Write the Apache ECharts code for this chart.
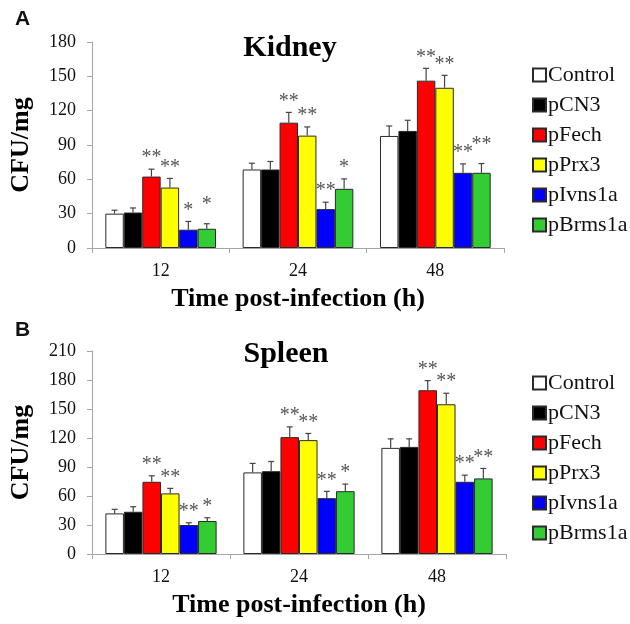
<!DOCTYPE html>
<html>
<head>
<meta charset="utf-8">
<script src="https://cdn.jsdelivr.net/npm/echarts@6/dist/echarts.min.js"></script>
<style>html,body{margin:0;padding:0;background:#fff}#c{width:630px;height:624px}</style>
</head>
<body>
<div id="c"></div>
<script>
// ---- data ----
const categories = ['12', '24', '48'];
const seriesNames = ['Control', 'pCN3', 'pFech', 'pPrx3', 'pIvns1a', 'pBrms1a'];
const seriesColors = ['#ffffff', '#000000', '#ff0000', '#ffff00', '#0000ff', '#33cc33'];

const kidneyTicks = [0, 30, 60, 90, 120, 150, 180];
const spleenTicks = [0, 30, 60, 90, 120, 150, 180, 210];

// Kidney means
const kidneyControl = [30, 68.6, 97.9];
const kidneyCN3 = [31, 68.6, 102.3];
const kidneyFech = [62.4, 109.5, 146.2];
const kidneyPrx3 = [52.8, 98.2, 140];
const kidneyIvns1a = [16, 34, 65.7];
const kidneyBrms1a = [16.8, 51.7, 65.7];
// Kidney error (upper)
const kidneyControlErr = [3, 5.5, 8.7];
const kidneyCN3Err = [4, 7, 9.3];
const kidneyFechErr = [6.5, 9, 10.8];
const kidneyPrx3Err = [8, 7.6, 10.9];
const kidneyIvns1aErr = [7.2, 6, 7.8];
const kidneyBrms1aErr = [4.4, 8.7, 8.1];
// Kidney significance
const kidneyControlSig = ['', '', ''];
const kidneyCN3Sig = ['', '', ''];
const kidneyFechSig = ['**', '**', '**'];
const kidneyPrx3Sig = ['**', '**', '**'];
const kidneyIvns1aSig = ['*', '**', '**'];
const kidneyBrms1aSig = ['*', '*', '**'];

// Spleen means
const spleenControl = [42, 84.4, 109.8];
const spleenCN3 = [43.7, 85.7, 110.8];
const spleenFech = [74.7, 120.9, 169.4];
const spleenPrx3 = [62.7, 117.8, 154.9];
const spleenIvns1a = [30, 57.8, 74.7];
const spleenBrms1a = [34.1, 65, 78.2];
// Spleen error (upper)
const spleenControlErr = [4.2, 9.3, 9.3];
const spleenCN3Err = [5.2, 10, 8.3];
const spleenFechErr = [6.2, 10.6, 10];
const spleenPrx3Err = [5.2, 6.9, 11.4];
const spleenIvns1aErr = [2.3, 7, 6.9];
const spleenBrms1aErr = [3.4, 7.3, 10.3];
// Spleen significance
const spleenControlSig = ['', '', ''];
const spleenCN3Sig = ['', '', ''];
const spleenFechSig = ['**', '**', '**'];
const spleenPrx3Sig = ['**', '**', '**'];
const spleenIvns1aSig = ['**', '**', '**'];
const spleenBrms1aSig = ['*', '*', '**'];

// ---- build ----
const SERIF = '"Liberation Serif", "Times New Roman", serif';
const CAT_GAP = 0.194;

const kidneyVals = [kidneyControl, kidneyCN3, kidneyFech, kidneyPrx3, kidneyIvns1a, kidneyBrms1a];
const kidneyErrs = [kidneyControlErr, kidneyCN3Err, kidneyFechErr, kidneyPrx3Err, kidneyIvns1aErr, kidneyBrms1aErr];
const kidneySigs = [kidneyControlSig, kidneyCN3Sig, kidneyFechSig, kidneyPrx3Sig, kidneyIvns1aSig, kidneyBrms1aSig];
const spleenVals = [spleenControl, spleenCN3, spleenFech, spleenPrx3, spleenIvns1a, spleenBrms1a];
const spleenErrs = [spleenControlErr, spleenCN3Err, spleenFechErr, spleenPrx3Err, spleenIvns1aErr, spleenBrms1aErr];
const spleenSigs = [spleenControlSig, spleenCN3Sig, spleenFechSig, spleenPrx3Sig, spleenIvns1aSig, spleenBrms1aSig];

function barSeries(vals, axisIdx) {
  return vals.map((v, i) => ({
    type: 'bar',
    name: seriesNames[i],
    xAxisIndex: axisIdx, yAxisIndex: axisIdx,
    data: v,
    barGap: '0%',
    barCategoryGap: (CAT_GAP * 100) + '%',
    itemStyle: { color: seriesColors[i], borderColor: '#2a2a2a', borderWidth: 1 },
    emphasis: { disabled: true },
    animation: false
  }));
}

function errSeries(vals, errs, sigs, axisIdx) {
  const data = [];
  vals.forEach((v, s) => v.forEach((m, c) => {
    const prevTop = s > 0 && sigs[s - 1][c] ? vals[s - 1][c] + errs[s - 1][c] : -1;
    data.push([c, s, m, m + errs[s][c], sigs[s][c], prevTop]);
  }));
  return {
    type: 'custom',
    xAxisIndex: axisIdx, yAxisIndex: axisIdx,
    encode: { x: 0, y: 3 },
    data: data,
    silent: true,
    z: 5,
    animation: false,
    renderItem: function (params, api) {
      const c = api.value(0), s = api.value(1);
      const band = api.size([1, 0])[0];
      const barW = band * (1 - CAT_GAP) / seriesNames.length;
      const base = api.coord([c, api.value(2)]);
      const top = api.coord([c, api.value(3)]);
      const x = base[0] + (s - (seriesNames.length - 1) / 2) * barW;
      const item = data[params.dataIndex];
      const sig = item[4];
      const st = { stroke: '#444', lineWidth: 1.2 };
      const children = [
        { type: 'line', shape: { x1: x, y1: base[1], x2: x, y2: top[1] }, style: st },
        { type: 'line', shape: { x1: x - 3, y1: top[1], x2: x + 3, y2: top[1] }, style: st }
      ];
      if (sig) {
        let lift = 0;
        if (item[5] >= 0) {
          const pt = api.coord([c, item[5]])[1];
          if (Math.abs(pt - top[1]) < 4) lift = 8;
        }
        children.push({
          type: 'text',
          style: { text: sig, x: x, y: top[1] - 1 - lift, align: 'center', verticalAlign: 'bottom',
                   fill: '#555', font: '20px ' + SERIF }
        });
      }
      return { type: 'group', children: children };
    }
  };
}

function yAxis(ticks, gridIdx) {
  return {
    type: 'value', gridIndex: gridIdx,
    min: ticks[0], max: ticks[ticks.length - 1], interval: ticks[1] - ticks[0],
    name: 'CFU/mg', nameLocation: 'middle', nameGap: 58,
    nameTextStyle: { fontFamily: SERIF, fontWeight: 'bold', fontSize: 26, color: '#000' },
    axisLine: { show: true, lineStyle: { color: '#a6a6a6', width: 1 } },
    axisTick: { show: true, length: 5, lineStyle: { color: '#a6a6a6' } },
    axisLabel: { margin: 16, fontFamily: SERIF, fontSize: 18, color: '#111' },
    splitLine: { show: false }
  };
}

function xAxis(gridIdx) {
  return {
    type: 'category', gridIndex: gridIdx, data: categories,
    name: 'Time post-infection (h)', nameLocation: 'middle', nameGap: 38,
    nameTextStyle: { fontFamily: SERIF, fontWeight: 'bold', fontSize: 26, color: '#000' },
    axisLine: { lineStyle: { color: '#a6a6a6', width: 1 } },
    axisTick: { show: true, length: 5, lineStyle: { color: '#a6a6a6' } },
    axisLabel: { margin: 14, fontFamily: SERIF, fontSize: 18, color: '#111' }
  };
}

function legend(top) {
  return {
    orient: 'vertical', left: 527, top: top,
    itemWidth: 13, itemHeight: 13, itemGap: 8,
    icon: 'rect',
    selectedMode: false,
    data: seriesNames,
    textStyle: { fontFamily: SERIF, fontSize: 22, lineHeight: 22, color: '#111', padding: [0, 0, 0, -3] }
  };
}

const option = {
  backgroundColor: '#fff',
  animation: false,
  title: [
    { text: 'Kidney', left: 285, top: 28, textAlign: 'center',
      textStyle: { fontFamily: SERIF, fontWeight: 'bold', fontSize: 30, color: '#000' } },
    { text: 'Spleen', left: 281, top: 334, textAlign: 'center',
      textStyle: { fontFamily: SERIF, fontWeight: 'bold', fontSize: 30, color: '#000' } }
  ],
  graphic: [
    { type: 'text', left: 15, top: 9, style: { text: 'A', font: 'bold 21px "Liberation Sans", Arial, sans-serif', fill: '#111' } },
    { type: 'text', left: 15, top: 320, style: { text: 'B', font: 'bold 21px "Liberation Sans", Arial, sans-serif', fill: '#111' } }
  ],
  legend: [legend(59), legend(367)],
  grid: [
    { left: 91, top: 42, width: 413, height: 206 },
    { left: 91, top: 351, width: 415, height: 203 }
  ],
  xAxis: [xAxis(0), xAxis(1)],
  yAxis: [yAxis(kidneyTicks, 0), yAxis(spleenTicks, 1)],
  series: [].concat(
    barSeries(kidneyVals, 0),
    [errSeries(kidneyVals, kidneyErrs, kidneySigs, 0)],
    barSeries(spleenVals, 1),
    [errSeries(spleenVals, spleenErrs, spleenSigs, 1)]
  )
};

const chart = echarts.init(document.getElementById('c'), null, { renderer: 'canvas' });
chart.setOption(option);
</script>
</body>
</html>
